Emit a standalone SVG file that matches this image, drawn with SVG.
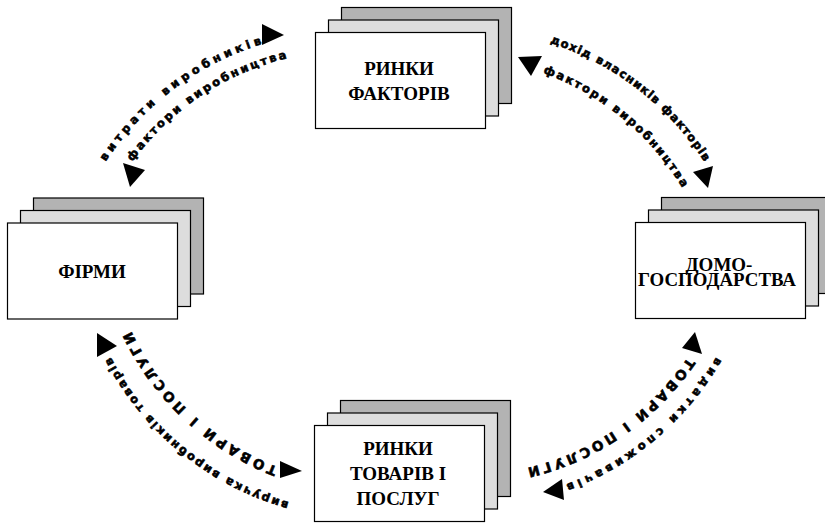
<svg xmlns="http://www.w3.org/2000/svg" width="825" height="525" viewBox="0 0 825 525">
<style>
.f{fill:#fff;stroke:#000;stroke-width:1.2}
.m{fill:#dddddd;stroke:#000;stroke-width:1.2}
.b{fill:#b3b3b3;stroke:#000;stroke-width:1.2}
.t{font-family:"Liberation Serif","Times New Roman",serif;font-weight:bold;font-size:19px;text-anchor:middle;fill:#000}
.l{font-family:"DejaVu Sans",sans-serif;font-weight:bold;font-size:11.5px;fill:#000;stroke:#000;stroke-width:0.6}
.c{font-size:13.5px}
.ah{fill:#000}
</style>
<defs>
<path id="p1" d="M105.6,161.8 A290,290 0 0 1 262,44"/>
<path id="p2" d="M550,42.9 A290,290 0 0 1 704.3,161.8"/>
<path id="p3" d="M289,502.2 A290,290 0 0 1 110.8,357.1"/>
<path id="p4" d="M716.1,357.1 A290,290 0 0 1 566,484.3"/>
<path id="p5" d="M132.3,161.7 A270,270 0 0 1 287,58.3"/>
<path id="p6" d="M543,72.8 A270,270 0 0 1 682.2,187.9"/>
<path id="p7" d="M277.7,467.1 A270,270 0 0 1 131.4,331.3"/>
<path id="p8" d="M687.6,357.5 A270,270 0 0 1 527.3,468.1"/>
</defs>
<rect width="825" height="525" fill="#fff"/>
<g id="node-factor-markets">
<rect class="b" x="341.5" y="7.5" width="170" height="96"/>
<rect class="m" x="328.5" y="20" width="170" height="96"/>
<rect class="f" x="315.5" y="32.5" width="170" height="96"/>
<text class="t" x="399" y="75">РИНКИ</text>
<text class="t" x="399" y="100">ФАКТОРІВ</text>
</g>
<g id="node-firms">
<rect class="b" x="33.5" y="198" width="170" height="96"/>
<rect class="m" x="20.5" y="210.5" width="170" height="96"/>
<rect class="f" x="7.5" y="223" width="170" height="96"/>
<text class="t" x="92" y="278">ФІРМИ</text>
</g>
<g id="node-households">
<rect class="b" x="661.5" y="197.5" width="170" height="96"/>
<rect class="m" x="648.5" y="210" width="170" height="96"/>
<rect class="f" x="635.5" y="222.5" width="170" height="96"/>
<text class="t" x="719" y="271">ДОМО-</text>
<text class="t" x="717" y="286" textLength="158" lengthAdjust="spacingAndGlyphs">ГОСПОДАРСТВА</text>
</g>
<g id="node-goods-markets">
<rect class="b" x="340.5" y="400.5" width="170" height="96"/>
<rect class="m" x="327.5" y="413" width="170" height="96"/>
<rect class="f" x="314.5" y="425.5" width="170" height="96"/>
<text class="t" x="398" y="455">РИНКИ</text>
<text class="t" x="398" y="480">ТОВАРІВ І</text>
<text class="t" x="398" y="505">ПОСЛУГ</text>
</g>
<g id="connectors">
<polygon class="ah" points="262,24 284,35 262,45"/>
<polygon class="ah" points="123,163 145,170 130,187"/>
<polygon class="ah" points="518,57 542,56 531,76"/>
<polygon class="ah" points="693,172 713,166 708,188"/>
<polygon class="ah" points="97,333 117,346 97,357"/>
<polygon class="ah" points="280,461 302,471 280,478"/>
<polygon class="ah" points="695,332 702,354 682,348"/>
<polygon class="ah" points="543,492 562,479 564,500"/>
<text class="l"><textPath href="#p1" textLength="199.7" lengthAdjust="spacing">витрати виробників</textPath></text>
<text class="l"><textPath href="#p2" textLength="198.6" lengthAdjust="spacing">дохід власників факторів</textPath></text>
<text class="l"><textPath href="#p3" textLength="236.3" lengthAdjust="spacing">виручка виробників товарів</textPath></text>
<text class="l"><textPath href="#p4" textLength="200.7" lengthAdjust="spacing">видатки споживачів</textPath></text>
<text class="l"><textPath href="#p5" textLength="190" lengthAdjust="spacing">фактори виробництва</textPath></text>
<text class="l"><textPath href="#p6" textLength="184.1" lengthAdjust="spacing">фактори виробництва</textPath></text>
<text class="l c"><textPath href="#p7" textLength="204.5" lengthAdjust="spacing">ТОВАРИ І ПОСЛУГИ</textPath></text>
<text class="l c"><textPath href="#p8" textLength="199.2" lengthAdjust="spacing">ТОВАРИ І ПОСЛУГИ</textPath></text>
</g>
</svg>
